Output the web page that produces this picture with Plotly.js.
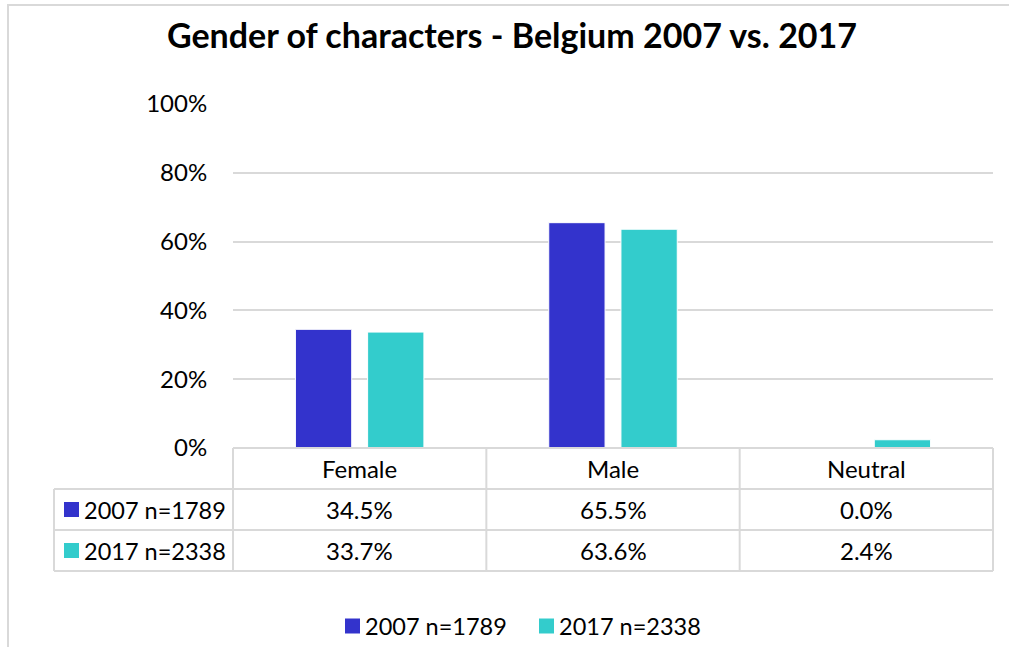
<!DOCTYPE html>
<html>
<head>
<meta charset="utf-8">
<script src="https://cdn.plot.ly/plotly-3.0.1.min.js"></script>
<style>
html,body{margin:0;padding:0;background:#fff;}
#chart{width:1009px;height:647px;}
</style>
</head>
<body>
<div id="chart"></div>
<script>
// ---- data ----
const categories = ['Female', 'Male', 'Neutral'];
const seriesNames = ['2007 n=1789', '2017 n=2338'];
const values2007 = [0.345, 0.655, 0.000];
const values2017 = [0.337, 0.636, 0.024];
const seriesColors = ['#3333CC', '#33CCCC'];
const yTickVals = [0, 0.2, 0.4, 0.6, 0.8, 1.0];
const chartTitle = 'Gender of characters - Belgium 2007 vs. 2017';

// ---- geometry (pixels) ----
const W = 1009, H = 647;
const PL = 233, PR = 993, PT = 104, PB = 448;
const px = x => (x - PL) / (PR - PL);
const py = y => (PB - y) / (PB - PT);
const FONT = 'Lato, "Open Sans", sans-serif';
const GRID = '#D9D9D9';
const FS = 24;

const allValues = [values2007, values2017];
const traces = allValues.map((vals, i) => ({
  type: 'bar',
  name: seriesNames[i],
  x: categories,
  y: vals,
  marker: {color: seriesColors[i], line: {color: '#ffffff', width: 1}},
  hoverinfo: 'x+y+name',
  showlegend: false
}));

// ---- data table below the plot ----
const rowTop = [448, 489, 530, 571];
const tableLeft = 54;
const shapes = [];
const line = (x0, y0, x1, y1) => ({type: 'line', xref: 'paper', yref: 'paper',
  x0: px(x0), y0: py(y0), x1: px(x1), y1: py(y1), line: {color: GRID, width: 2}});
// outer frame of chart area
shapes.push({type: 'rect', xref: 'paper', yref: 'paper', x0: px(8), y0: py(5), x1: px(1030), y1: py(680),
  line: {color: GRID, width: 2}, fillcolor: 'rgba(0,0,0,0)', layer: 'below'});
shapes.push(line(PL, rowTop[0], PR, rowTop[0]));
for (let r = 1; r < rowTop.length; r++) shapes.push(line(tableLeft, rowTop[r], PR, rowTop[r]));
shapes.push(line(tableLeft, rowTop[1], tableLeft, rowTop[3]));
for (let c = 0; c <= categories.length; c++) {
  const xpx = PL + (PR - PL) * c / categories.length;
  shapes.push(line(xpx, rowTop[0], xpx, rowTop[3]));
}

const annotations = [];
const txtFont = {family: FONT, size: FS, color: '#000000'};
categories.forEach((cat, j) => {
  annotations.push({xref: 'x', yref: 'paper', x: cat, y: py((rowTop[0] + rowTop[1]) / 2),
    text: cat, showarrow: false, font: txtFont, xanchor: 'center', yanchor: 'middle'});
  allValues.forEach((vals, i) => {
    annotations.push({xref: 'x', yref: 'paper', x: cat, y: py((rowTop[i + 1] + rowTop[i + 2]) / 2),
      text: (vals[j] * 100).toFixed(1) + '%', showarrow: false, font: txtFont,
      xanchor: 'center', yanchor: 'middle'});
  });
});
seriesNames.forEach((nm, i) => {
  const cy = (rowTop[i + 1] + rowTop[i + 2]) / 2;
  shapes.push({type: 'rect', xref: 'paper', yref: 'paper', x0: px(64), x1: px(79),
    y0: py(cy - 7.5), y1: py(cy + 7.5), fillcolor: seriesColors[i], line: {width: 0}});
  annotations.push({xref: 'paper', yref: 'paper', x: px(82), y: py(cy), text: nm,
    showarrow: false, font: {family: FONT, size: 23.5, color: '#000000'}, xanchor: 'left', yanchor: 'middle'});
});

// ---- bottom legend (keys + labels) ----
const legendKeyX = [345, 539];
const legendCY = 626;
seriesNames.forEach((nm, i) => {
  shapes.push({type: 'rect', xref: 'paper', yref: 'paper', x0: px(legendKeyX[i]), x1: px(legendKeyX[i] + 15),
    y0: py(legendCY - 7.5), y1: py(legendCY + 7.5), fillcolor: seriesColors[i], line: {width: 0}});
  annotations.push({xref: 'paper', yref: 'paper', x: px(legendKeyX[i] + 18), y: py(legendCY), text: nm,
    showarrow: false, font: {family: FONT, size: 23.5, color: '#000000'}, xanchor: 'left', yanchor: 'middle'});
});

const layout = {
  width: W, height: H,
  margin: {l: PL, r: W - PR, t: PT, b: H - PB, pad: 0, autoexpand: false},
  paper_bgcolor: '#ffffff', plot_bgcolor: '#ffffff',
  title: {text: '<b>' + chartTitle + '</b>', xref: 'container', yref: 'container',
    x: 512 / W, y: 1 - 36 / H, xanchor: 'center', yanchor: 'middle',
    font: {family: FONT, size: 34, color: '#000000'}},
  font: {family: FONT, size: FS, color: '#000000'},
  barmode: 'group', bargap: 0.43, bargroupgap: 0.22,
  xaxis: {type: 'category', range: [-0.5, 2.5], showticklabels: false, ticks: '',
    showgrid: false, zeroline: false, showline: false, fixedrange: true},
  yaxis: {range: [0, 1], tickvals: yTickVals, tickformat: '.0%', showgrid: true,
    gridcolor: GRID, gridwidth: 1.5, zeroline: false, showline: false,
    ticks: 'outside', ticklen: 20, tickcolor: 'rgba(0,0,0,0)',
    tickfont: {family: FONT, size: FS, color: '#000000'}, fixedrange: true},
  showlegend: false,
  shapes: shapes,
  annotations: annotations
};

Plotly.newPlot('chart', traces, layout, {displayModeBar: false});
</script>
</body>
</html>
